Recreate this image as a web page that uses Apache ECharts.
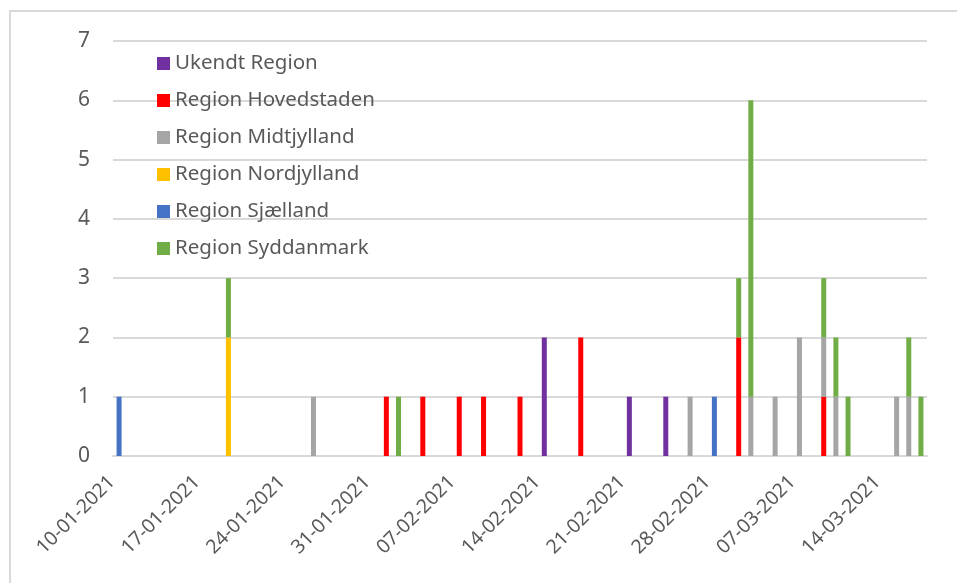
<!DOCTYPE html>
<html lang="da">
<head>
    <meta charset="UTF-8">
    <title>Tilfælde pr. region</title>
    <script src="https://cdn.jsdelivr.net/npm/echarts@6/dist/echarts.min.js"></script>
    <style>
        html, body { margin: 0; padding: 0; background: #fff; }
        #chart { width: 957px; height: 583px; }
    </style>
</head>
<body>
<div id="chart"></div>
<script>
    // en kategori pr. dag, 10-01-2021 .. 17-03-2021
    var startDate = new Date(2021, 0, 10);
    var dayCount = 67;
    var days = [];
    for (var i = 0; i < dayCount; i++) {
        var d = new Date(startDate.getFullYear(), startDate.getMonth(), startDate.getDate() + i);
        var dd = ('0' + d.getDate()).slice(-2);
        var mm = ('0' + (d.getMonth() + 1)).slice(-2);
        days.push(dd + '-' + mm + '-' + d.getFullYear());
    }

    var regions = ['Ukendt Region', 'Region Hovedstaden', 'Region Midtjylland',
        'Region Nordjylland', 'Region Sjælland', 'Region Syddanmark'];
    var colors = ['#7030A0', '#FF0000', '#A5A5A5', '#FFC000', '#4472C4', '#70AD47'];

    // en række pr. uge (søn..lør)
    var ukendt = [
        0, 0, 0, 0, 0, 0, 0,
        0, 0, 0, 0, 0, 0, 0,
        0, 0, 0, 0, 0, 0, 0,
        0, 0, 0, 0, 0, 0, 0,
        0, 0, 0, 0, 0, 0, 0,
        2, 0, 0, 0, 0, 0, 0,
        1, 0, 0, 1, 0, 0, 0,
        0, 0, 0, 0, 0, 0, 0,
        0, 0, 0, 0, 0, 0, 0,
        0, 0, 0, 0
    ];
    var hovedstaden = [
        0, 0, 0, 0, 0, 0, 0,
        0, 0, 0, 0, 0, 0, 0,
        0, 0, 0, 0, 0, 0, 0,
        0, 1, 0, 0, 1, 0, 0,
        1, 0, 1, 0, 0, 1, 0,
        0, 0, 0, 2, 0, 0, 0,
        0, 0, 0, 0, 0, 0, 0,
        0, 0, 2, 0, 0, 0, 0,
        0, 0, 1, 0, 0, 0, 0,
        0, 0, 0, 0
    ];
    var midtjylland = [
        0, 0, 0, 0, 0, 0, 0,
        0, 0, 0, 0, 0, 0, 0,
        0, 0, 1, 0, 0, 0, 0,
        0, 0, 0, 0, 0, 0, 0,
        0, 0, 0, 0, 0, 0, 0,
        0, 0, 0, 0, 0, 0, 0,
        0, 0, 0, 0, 0, 1, 0,
        0, 0, 0, 1, 0, 1, 0,
        2, 0, 1, 1, 0, 0, 0,
        0, 1, 1, 0
    ];
    var nordjylland = [
        0, 0, 0, 0, 0, 0, 0,
        0, 0, 2, 0, 0, 0, 0,
        0, 0, 0, 0, 0, 0, 0,
        0, 0, 0, 0, 0, 0, 0,
        0, 0, 0, 0, 0, 0, 0,
        0, 0, 0, 0, 0, 0, 0,
        0, 0, 0, 0, 0, 0, 0,
        0, 0, 0, 0, 0, 0, 0,
        0, 0, 0, 0, 0, 0, 0,
        0, 0, 0, 0
    ];
    var sjaelland = [
        1, 0, 0, 0, 0, 0, 0,
        0, 0, 0, 0, 0, 0, 0,
        0, 0, 0, 0, 0, 0, 0,
        0, 0, 0, 0, 0, 0, 0,
        0, 0, 0, 0, 0, 0, 0,
        0, 0, 0, 0, 0, 0, 0,
        0, 0, 0, 0, 0, 0, 0,
        1, 0, 0, 0, 0, 0, 0,
        0, 0, 0, 0, 0, 0, 0,
        0, 0, 0, 0
    ];
    var syddanmark = [
        0, 0, 0, 0, 0, 0, 0,
        0, 0, 1, 0, 0, 0, 0,
        0, 0, 0, 0, 0, 0, 0,
        0, 0, 1, 0, 0, 0, 0,
        0, 0, 0, 0, 0, 0, 0,
        0, 0, 0, 0, 0, 0, 0,
        0, 0, 0, 0, 0, 0, 0,
        0, 0, 1, 5, 0, 0, 0,
        0, 0, 1, 1, 1, 0, 0,
        0, 0, 1, 1
    ];
    var regionData = [ukendt, hovedstaden, midtjylland, nordjylland, sjaelland, syddanmark];
    var yTicks = [0, 1, 2, 3, 4, 5, 6, 7];

    var font = 'Noto Sans';
    var textColor = '#595959';
    var lineColor = '#D9D9D9';

    var series = regions.map(function (name, k) {
        return {
            name: name,
            type: 'bar',
            stack: 'total',
            barWidth: 5,
            itemStyle: { color: colors[k] },
            data: regionData[k]
        };
    });

    var myChart = echarts.init(document.getElementById('chart'));
    myChart.setOption({
        animation: false,
        color: colors,
        grid: { left: 113, right: 30, top: 41, bottom: 127 },
        legend: {
            orient: 'vertical',
            left: 152,
            top: 48,
            itemWidth: 13,
            itemHeight: 13,
            itemGap: 16,
            icon: 'rect',
            textStyle: { fontFamily: font, fontSize: 20.5, color: textColor },
            data: regions
        },
        graphic: [{
            type: 'rect',
            shape: { x: 10, y: 11, width: 970, height: 600 },
            style: { fill: 'none', stroke: lineColor, lineWidth: 2 },
            silent: true
        }],
        xAxis: {
            type: 'category',
            data: days,
            axisLine: { lineStyle: { color: lineColor, width: 2 } },
            axisTick: { interval: 6, length: 7, lineStyle: { color: lineColor, width: 2 } },
            axisLabel: {
                interval: 6,
                rotate: 45,
                margin: 30,
                verticalAlign: 'bottom',
                fontFamily: font,
                fontSize: 19.5,
                color: textColor
            }
        },
        yAxis: {
            type: 'value',
            min: yTicks[0],
            max: yTicks[yTicks.length - 1],
            interval: 1,
            axisLine: { show: false },
            axisTick: { show: false },
            axisLabel: { margin: 23, fontFamily: font, fontSize: 21, color: textColor },
            splitLine: { lineStyle: { color: lineColor, width: 2 } }
        },
        series: series
    });
</script>
</body>
</html>
